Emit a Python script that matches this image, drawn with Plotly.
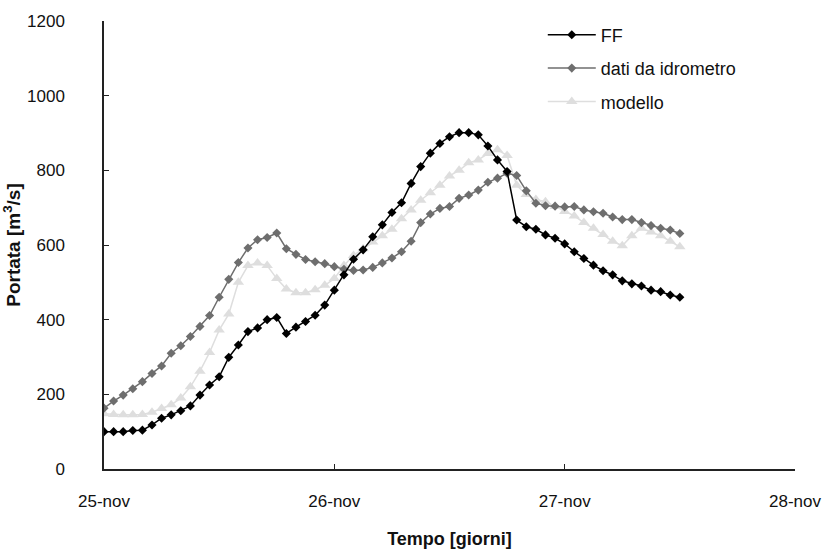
import pandas as pd
import plotly.graph_objects as go

start = "2008-11-25 00:00"
n_hours = 61
times = pd.date_range(start, periods=n_hours, freq="h")

ff = [100, 100, 100, 103, 104, 118, 136, 145, 156, 169,
      198, 225, 247, 299, 332, 368, 378, 400, 406, 363,
      380, 395, 412, 439, 479, 520, 562, 587, 622, 654,
      687, 713, 765, 810, 846, 872, 890, 901, 901, 895,
      865, 828, 797, 667, 649, 642, 627, 618, 603, 582,
      564, 546, 531, 520, 504, 496, 490, 479, 475, 466, 460]

idrometro = [163, 182, 198, 215, 234, 256, 276, 310, 330, 355,
             382, 411, 460, 508, 553, 592, 614, 620, 632, 590,
             575, 561, 555, 550, 542, 535, 532, 533, 540, 552,
             565, 582, 610, 660, 683, 698, 703, 725, 734, 747,
             768, 779, 792, 786, 745, 712, 705, 704, 702, 703,
             694, 689, 685, 675, 668, 668, 660, 652, 645, 640, 631]

modello = [148, 146, 145, 145, 146, 152, 162, 172, 190, 220,
           262, 312, 372, 415, 500, 545, 552, 545, 510, 482,
           472, 472, 480, 492, 510, 545, 572, 590, 608, 625,
           642, 670, 694, 720, 740, 760, 785, 800, 820, 828,
           845, 855, 840, 760, 735, 722, 716, 703, 690, 678,
           660, 645, 628, 610, 598, 625, 645, 635, 625, 610, 595]

tick_dates = ["2008-11-25", "2008-11-26", "2008-11-27", "2008-11-28"]
tick_labels = ["25-nov", "26-nov", "27-nov", "28-nov"]
y_ticks = [0, 200, 400, 600, 800, 1000, 1200]

font_family = "Liberation Sans, Arial, sans-serif"

fig = go.Figure()
fig.add_trace(go.Scatter(
    x=times, y=modello, name="modello", mode="lines+markers",
    line=dict(color="#dedede", width=1.5),
    marker=dict(symbol="triangle-up", size=10, color="#dedede"),
    legendgroup="c", legendrank=3))
fig.add_trace(go.Scatter(
    x=times, y=idrometro, name="dati da idrometro", mode="lines+markers",
    line=dict(color="#6e6e6e", width=1.5),
    marker=dict(symbol="diamond", size=7, color="#6e6e6e"),
    legendgroup="b", legendrank=2))
fig.add_trace(go.Scatter(
    x=times, y=ff, name="FF", mode="lines+markers",
    line=dict(color="#000000", width=1.5),
    marker=dict(symbol="diamond", size=7, color="#000000"),
    legendgroup="a", legendrank=1))

fig.update_layout(
    width=826, height=552,
    margin=dict(l=104, r=31, t=21, b=83),
    paper_bgcolor="white", plot_bgcolor="white",
    font=dict(family=font_family, size=17, color="#111111"),
    showlegend=True,
    legend=dict(x=0.635, y=1.01, xanchor="left", yanchor="top",
                font=dict(size=18, color="#111111"),
                itemwidth=48,
                tracegroupgap=7, bgcolor="rgba(0,0,0,0)"),
    xaxis=dict(
        range=[tick_dates[0], tick_dates[-1]],
        tickvals=tick_dates, ticktext=tick_labels,
        showgrid=False, zeroline=False, automargin=False,
        showline=True, linecolor="#222222", linewidth=1.5,
        ticks="inside", ticklen=5, tickcolor="#222222",
        ticklabelstandoff=16,
        title=dict(text="<b>Tempo [giorni]</b>", font=dict(size=18), standoff=22),
    ),
    yaxis=dict(
        range=[0, 1200], tickvals=y_ticks,
        showgrid=False, zeroline=False, automargin=False,
        showline=True, linecolor="#222222", linewidth=1.5,
        ticks="inside", ticklen=5, tickcolor="#222222",
        ticklabelstandoff=34,
        title=dict(text="<b>Portata [m<sup>3</sup>/s]</b>", font=dict(size=19), standoff=5),
    ),
)

fig.write_html("out.html")
